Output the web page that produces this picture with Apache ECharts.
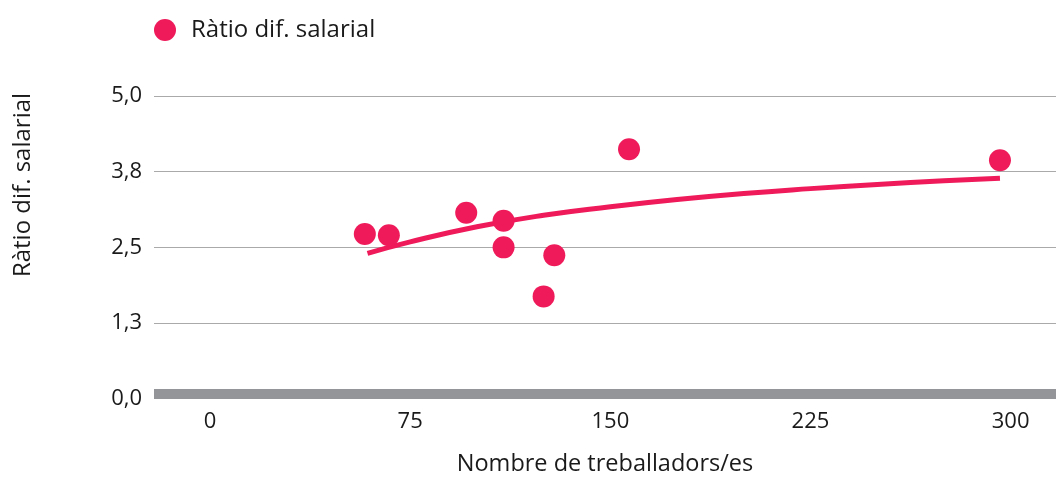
<!DOCTYPE html>
<html>
<head>
<meta charset="utf-8">
<script src="https://cdn.jsdelivr.net/npm/echarts@6/dist/echarts.min.js"></script>
<style>
  html, body { margin: 0; padding: 0; background: #ffffff; }
  #chart { width: 1056px; height: 487px; }
</style>
</head>
<body>
<div id="chart"></div>
<script>
// Salary-gap ratio vs. headcount, with a fitted trend curve
const seriesName = 'Ràtio dif. salarial';
const xAxisName = 'Nombre de treballadors/es';
const yAxisName = 'Ràtio dif. salarial';

const workers = [58, 67, 96, 110, 110, 125, 129, 157, 296];
const ratio   = [2.72, 2.70, 3.07, 2.94, 2.50, 1.69, 2.37, 4.12, 3.94];

// points along the trend curve
const trendWorkers = [59, 75, 100, 125, 150, 175, 200, 225, 250, 275, 296];
const trendRatio   = [2.40, 2.59, 2.84, 3.03, 3.17, 3.29, 3.39, 3.47, 3.54, 3.60, 3.64];

const xTicks = [0, 75, 150, 225, 300];
const yTickLabels = ['0,0', '1,3', '2,5', '3,8', '5,0'];

const pink = '#ee1a5a';
const font = 'Open Sans';
const tickSize = 22;
const titleSize = 24;
const textColor = '#1a1a1a';

const chart = echarts.init(document.getElementById('chart'), null, { renderer: 'canvas' });

chart.setOption({
  animation: false,
  backgroundColor: '#ffffff',
  textStyle: { fontFamily: font },
  legend: {
    data: [seriesName],
    left: 149,
    top: 13,
    icon: 'circle',
    itemWidth: 22,
    itemHeight: 22,
    textStyle: { fontFamily: font, fontSize: titleSize, color: textColor, padding: [0, 0, 0, 10] }
  },
  grid: { left: 154, right: 0, top: 96, bottom: 88.3, outerBoundsMode: 'none' },
  xAxis: {
    type: 'value',
    min: -21,
    max: 317,
    offset: -5,
    name: xAxisName,
    nameLocation: 'middle',
    nameGap: 59,
    nameTextStyle: { fontFamily: font, fontSize: 23.5, color: textColor },
    axisLine: { show: true, lineStyle: { color: '#939598', width: 10, cap: 'butt' } },
    axisTick: { show: false },
    splitLine: { show: false },
    axisLabel: {
      customValues: xTicks,
      margin: 17,
      fontFamily: font,
      fontSize: tickSize,
      color: textColor
    }
  },
  yAxis: {
    type: 'value',
    min: 0,
    max: 5,
    interval: 1.25,
    axisLine: { show: false },
    axisTick: { show: false },
    splitLine: { show: true, lineStyle: { color: '#aaaaaa', width: 1 } },
    axisLabel: {
      margin: 12,
      fontFamily: font,
      fontSize: tickSize,
      color: textColor,
      formatter: (v) => yTickLabels[Math.round(v / 1.25)]
    }
  },
  graphic: [{
    type: 'text',
    x: 23,
    y: 185,
    rotation: Math.PI / 2,
    style: {
      text: yAxisName,
      fontFamily: font,
      fontSize: titleSize,
      fill: textColor,
      align: 'center',
      verticalAlign: 'middle'
    }
  }],
  series: [
    {
      name: seriesName,
      type: 'scatter',
      symbol: 'circle',
      symbolSize: 22,
      itemStyle: { color: pink, opacity: 1 },
      data: workers.map((w, i) => [w, ratio[i]]),
      z: 3
    },
    {
      name: 'trend',
      type: 'line',
      smooth: true,
      showSymbol: false,
      silent: true,
      lineStyle: { color: pink, width: 5 },
      data: trendWorkers.map((w, i) => [w, trendRatio[i]]),
      z: 2
    }
  ]
});
</script>
</body>
</html>
